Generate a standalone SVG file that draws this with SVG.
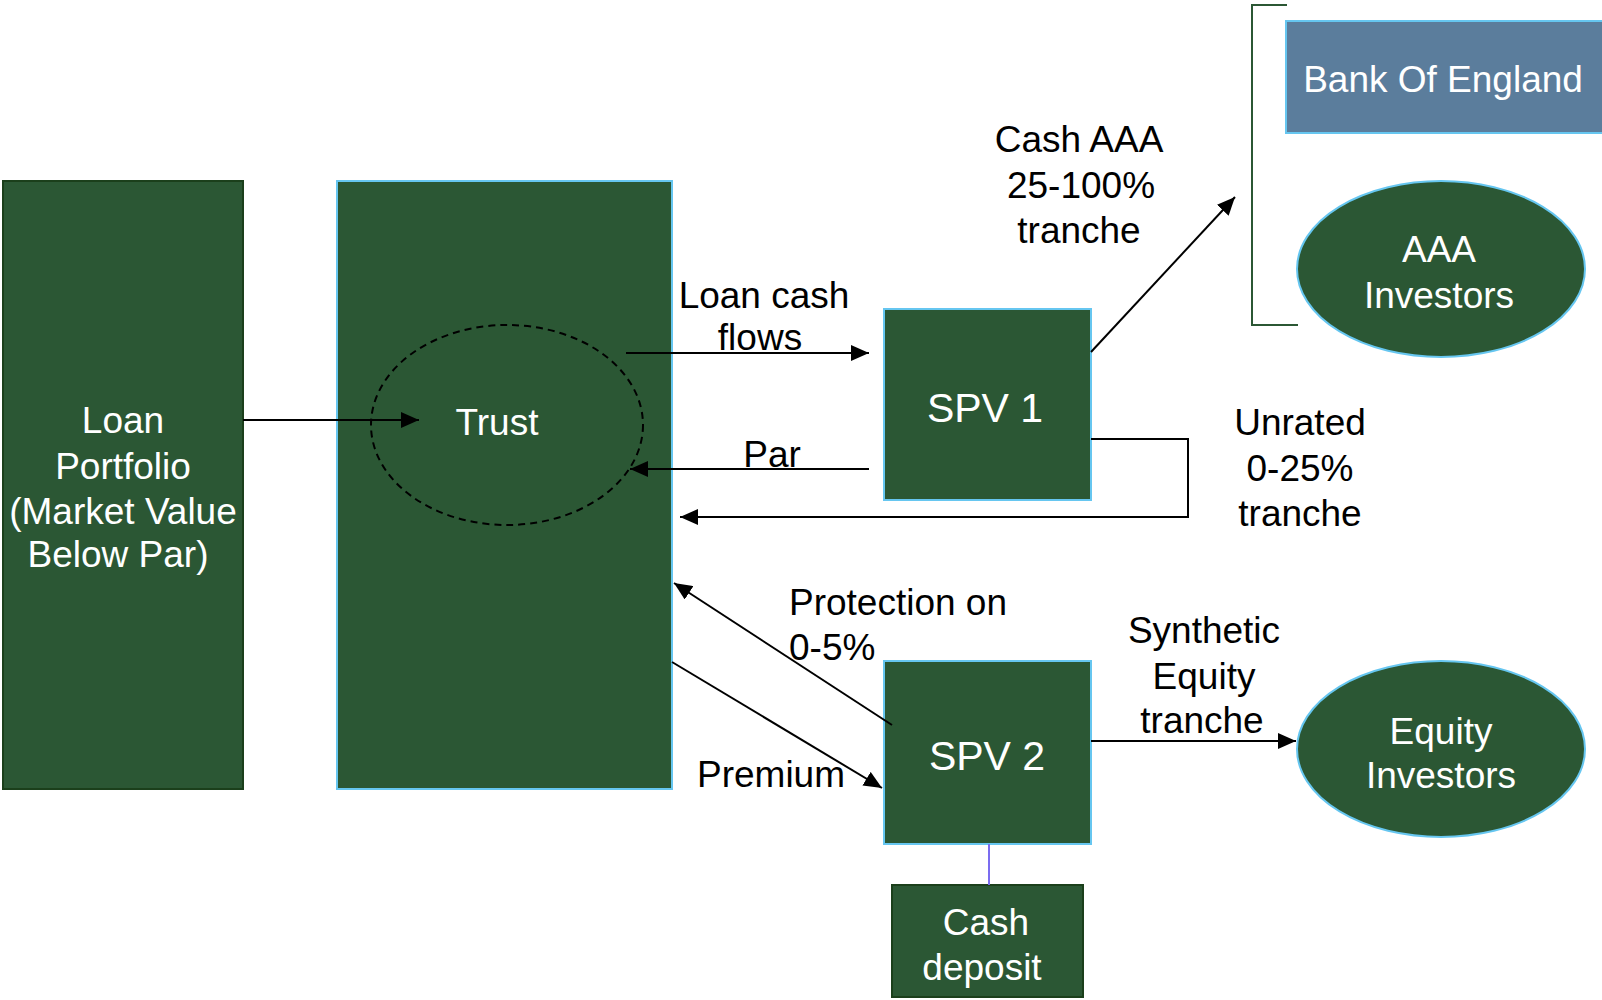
<svg xmlns="http://www.w3.org/2000/svg" width="1602" height="1000" viewBox="0 0 1602 1000">
  <style>
    .box { fill: #2B5734; stroke: #66C6F0; stroke-width: 2; }
    .boxd { fill: #2B5734; stroke: #1B3F1B; stroke-width: 2; }
    .lbl { font-family: "Liberation Sans", Arial, sans-serif; font-size: 37px; text-anchor: middle; }
    .big { font-size: 41px; }
    .w { fill: #FFFFFF; }
    .k { fill: #000000; }
    .con { stroke: #000; stroke-width: 2; fill: none; }
  </style>
  <defs>
    <marker id="arrow" markerUnits="userSpaceOnUse" markerWidth="20" markerHeight="16" refX="18" refY="8" orient="auto">
      <path d="M0,0 L18,8 L0,16 Z" fill="#000"/>
    </marker>
  </defs>
  <rect width="1602" height="1000" fill="#FFFFFF"/>

  <g id="loan-portfolio">
    <rect class="boxd" x="3" y="181" width="240" height="608"/>
    <text class="lbl w" x="123" y="433">Loan</text>
    <text class="lbl w" x="123" y="479">Portfolio</text>
    <text class="lbl w" x="123" y="524">(Market Value</text>
    <text class="lbl w" x="118" y="567">Below Par)</text>
  </g>

  <g id="trust">
    <rect class="box" x="337" y="181" width="335" height="608"/>
    <ellipse cx="507" cy="425" rx="136" ry="100" fill="none" stroke="#000" stroke-width="2" stroke-dasharray="7,5"/>
    <text class="lbl w" x="497" y="435">Trust</text>
  </g>

  <g id="spv1">
    <rect class="box" x="884" y="309" width="207" height="191"/>
    <text class="lbl big w" x="985" y="422">SPV 1</text>
  </g>

  <g id="spv2">
    <rect class="box" x="884" y="661" width="207" height="183"/>
    <text class="lbl big w" x="987" y="770">SPV 2</text>
  </g>

  <g id="cash-deposit">
    <rect class="boxd" x="892" y="885" width="191" height="112"/>
    <text class="lbl w" x="986" y="935">Cash</text>
    <text class="lbl w" x="982" y="980">deposit</text>
  </g>

  <g id="bank-of-england">
    <rect x="1286" y="21" width="330" height="112" fill="#5B7D9C" stroke="#66C6F0" stroke-width="2"/>
    <text class="lbl w" x="1443" y="92">Bank Of England</text>
  </g>

  <g id="aaa-investors">
    <ellipse class="box" cx="1441" cy="269" rx="144" ry="88"/>
    <text class="lbl w" x="1439" y="262">AAA</text>
    <text class="lbl w" x="1439" y="308">Investors</text>
  </g>

  <g id="equity-investors">
    <ellipse class="box" cx="1441" cy="749" rx="144" ry="88"/>
    <text class="lbl w" x="1441" y="744">Equity</text>
    <text class="lbl w" x="1441" y="788">Investors</text>
  </g>

  <g id="connectors">
    <!-- bracket grouping the AAA buyers -->
    <path d="M1287,5 H1252 V325 H1298" fill="none" stroke="#2B5734" stroke-width="2"/>
    <line class="con" x1="243" y1="420" x2="419" y2="420" marker-end="url(#arrow)"/>
    <line class="con" x1="626" y1="353" x2="869" y2="353" marker-end="url(#arrow)"/>
    <line class="con" x1="869" y1="469" x2="630" y2="469" marker-end="url(#arrow)"/>
    <path class="con" d="M1091,439 H1188 V517 H680" marker-end="url(#arrow)"/>
    <line class="con" x1="1091" y1="352" x2="1235" y2="197" marker-end="url(#arrow)"/>
    <line class="con" x1="892" y1="725" x2="674" y2="583" marker-end="url(#arrow)"/>
    <line class="con" x1="672" y1="662" x2="882" y2="788" marker-end="url(#arrow)"/>
    <line class="con" x1="1091" y1="741" x2="1296" y2="741" marker-end="url(#arrow)"/>
    <line x1="989" y1="844" x2="989" y2="885" stroke="#7B6CF0" stroke-width="2"/>
  </g>

  <g id="labels">
    <text class="lbl k" x="764" y="308">Loan cash</text>
    <text class="lbl k" x="760" y="350">flows</text>
    <text class="lbl k" x="772" y="467">Par</text>
    <text class="lbl k" x="1079" y="152">Cash AAA</text>
    <text class="lbl k" x="1081" y="198">25-100%</text>
    <text class="lbl k" x="1079" y="243">tranche</text>
    <text class="lbl k" x="1300" y="435">Unrated</text>
    <text class="lbl k" x="1300" y="481">0-25%</text>
    <text class="lbl k" x="1300" y="526">tranche</text>
    <text class="lbl k" x="789" y="615" style="text-anchor:start">Protection on</text>
    <text class="lbl k" x="789" y="660" style="text-anchor:start">0-5%</text>
    <text class="lbl k" x="771" y="787">Premium</text>
    <text class="lbl k" x="1204" y="643">Synthetic</text>
    <text class="lbl k" x="1204" y="689">Equity</text>
    <text class="lbl k" x="1202" y="733">tranche</text>
  </g>
</svg>
